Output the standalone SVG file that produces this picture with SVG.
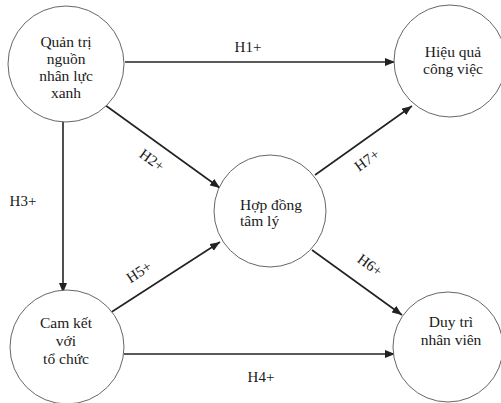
<svg xmlns="http://www.w3.org/2000/svg" width="501" height="403" viewBox="0 0 501 403">
<style>
.node{fill:#fff;stroke:#666;stroke-width:1}
.t{font-family:"Liberation Serif","Times New Roman",serif;font-size:15.5px;fill:#1a1a1a;text-anchor:middle}
.l{font-family:"Liberation Serif","Times New Roman",serif;font-size:15px;fill:#1a1a1a;text-anchor:middle}
.c{stroke:#222;stroke-width:1.6;fill:none;marker-end:url(#a)}
</style>
<defs>
<marker id="a" viewBox="0 0 10 8" refX="10" refY="4" markerWidth="10" markerHeight="8" markerUnits="userSpaceOnUse" orient="auto">
<path d="M0,0 L10,4 L0,8 Z" fill="#222"/>
</marker>
</defs>
<rect width="501" height="403" fill="#fff"/>
<g id="connectors">
<line class="c" x1="125" y1="62" x2="395" y2="62"/>
<line class="c" x1="105" y1="105" x2="220" y2="188"/>
<line class="c" x1="63" y1="122" x2="63" y2="293"/>
<line class="c" x1="110" y1="313" x2="220" y2="242"/>
<line class="c" x1="124" y1="354" x2="395" y2="354"/>
<line class="c" x1="312" y1="250" x2="402" y2="315"/>
<line class="c" x1="315" y1="175" x2="412" y2="106"/>
<text class="l" x="248" y="52">H1+</text>
<text class="l" transform="translate(152,160) rotate(36)" y="5">H2+</text>
<text class="l" x="23" y="206">H3+</text>
<text class="l" x="261" y="382">H4+</text>
<text class="l" transform="translate(139,272) rotate(-33)" y="5">H5+</text>
<text class="l" transform="translate(370,265) rotate(36)" y="5">H6+</text>
<text class="l" transform="translate(367,160) rotate(-36)" y="5">H7+</text>
</g>
<g id="n1">
<circle class="node" cx="66" cy="64" r="58"/>
<text class="t" x="66" y="47">Quản trị</text>
<text class="t" x="66" y="64">nguồn</text>
<text class="t" x="66" y="81">nhân lực</text>
<text class="t" x="66" y="98">xanh</text>
</g>
<g id="n2">
<circle class="node" cx="450" cy="61" r="56"/>
<text class="t" x="453" y="57">Hiệu quả</text>
<text class="t" x="453" y="74">công việc</text>
</g>
<g id="n3">
<circle class="node" cx="270" cy="211" r="56"/>
<text class="t" x="240" y="210" style="text-anchor:start">Hợp đồng</text>
<text class="t" x="240" y="226" style="text-anchor:start">tâm lý</text>
</g>
<g id="n4">
<circle class="node" cx="67" cy="347" r="57"/>
<text class="t" x="66" y="328">Cam kết</text>
<text class="t" x="66" y="346">với</text>
<text class="t" x="66" y="364">tổ chức</text>
</g>
<g id="n5">
<circle class="node" cx="448" cy="347" r="55"/>
<text class="t" x="451" y="327">Duy trì</text>
<text class="t" x="451" y="345">nhân viên</text>
</g>
</svg>
